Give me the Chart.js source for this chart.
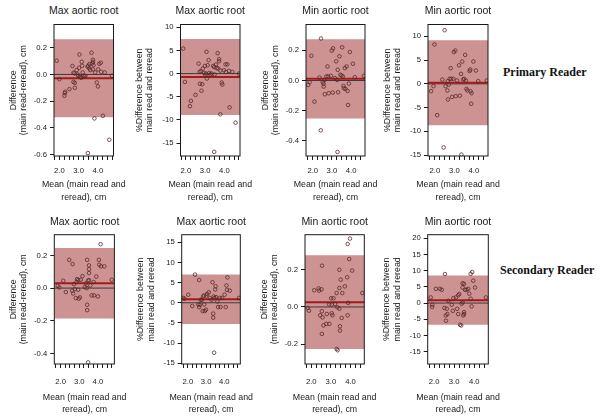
<!DOCTYPE html>
<html>
<head>
<meta charset="utf-8">
<script src="https://cdn.jsdelivr.net/npm/chart.js"></script>
<style>
    body { margin: 0; background: #fff; width: 600px; height: 416px; overflow: hidden; position: relative; }
    .panel { position: absolute; }
    .reader {
        position: absolute; white-space: nowrap; color: #111;
        font-family: 'Liberation Serif', 'Times New Roman', serif; font-weight: bold;
        font-size: 12px; line-height: 14px;
    }
    .xtitle, .ptitle {
        position: absolute; width: 130px; text-align: center; white-space: nowrap; color: #1a1a1a;
        font-family: 'Liberation Sans', Arial, Helvetica, sans-serif;
    }
    .xtitle { font-size: 8.8px; line-height: 12.4px; }
    .ptitle { font-size: 10.5px; line-height: 12px; }
</style>
</head>
<body>
<div class="reader" style="left:503px; top:65px;">Primary Reader</div>
<div class="reader" style="left:500px; top:263px;">Secondary Reader</div>
<script>
// Bland-Altman plots, main read vs reread, primary and secondary reader

// ---- values ----
const xTickValues = [1.75, 2, 2.25, 2.5, 2.75, 3, 3.25, 3.5, 3.75, 4, 4.25, 4.5, 4.75];

// Max aortic root, primary reader: difference (cm)
const maxPrimaryMean = [1.86, 2.00, 2.26, 2.28, 2.30, 2.52, 2.68, 2.73, 2.78, 2.73, 2.80, 2.80, 2.90, 2.95, 2.99, 3.02, 3.04, 3.08, 3.13, 3.16, 3.18, 3.21, 3.25, 3.30, 3.35, 3.46, 3.50, 3.55, 3.56, 3.60, 3.67, 3.70, 3.74, 3.75, 3.77, 3.74, 3.86, 3.94, 4.00, 4.01, 4.07, 4.15, 4.17, 4.35, 4.73, 3.82, 4.26, 4.59, 3.48];
const maxPrimaryDiff = [0.103, -0.035, -0.16, -0.14, -0.13, -0.11, 0.063, 0.013, 0.008, -0.055, -0.10, -0.063, 0.033, 0.0, -0.01, 0.05, 0.15, -0.018, -0.025, 0.095, 0.065, 0.015, -0.01, -0.013, -0.01, 0.058, 0.065, 0.045, 0.078, 0.033, 0.163, 0.083, 0.11, 0.095, 0.07, 0.038, 0.015, -0.06, -0.09, 0.038, 0.08, 0.088, 0.02, 0.015, -0.01, -0.33, -0.31, -0.49, -0.59];
const maxPrimaryDiffLoA = [-0.321, -0.028, 0.265];

// Max aortic root, primary reader: % difference
const maxPrimaryPctMean = [1.86, 1.95, 2.26, 2.21, 2.50, 2.66, 2.71, 2.78, 2.73, 2.85, 2.81, 2.88, 2.95, 2.99, 3.02, 3.04, 3.09, 3.07, 3.13, 3.18, 3.21, 3.27, 3.33, 3.42, 3.47, 3.49, 3.56, 3.60, 3.65, 3.68, 3.72, 3.73, 3.79, 3.86, 3.89, 3.79, 3.98, 4.06, 4.15, 4.08, 4.24, 4.41, 4.27, 4.58, 4.76, 3.47];
const maxPrimaryPct = [5.4, -1.8, -5.9, -7.05, -4.6, 2.15, 0.36, 0.5, -2.2, -2.3, -3.7, 1.08, 0.14, 1.65, -0.36, 0.0, -1.08, 4.7, 1.8, 2.9, 0.14, -0.2, 0.0, 1.65, 1.4, -0.2, 1.94, 1.2, 4.4, 1.08, 2.66, 3.1, 0.65, -1.94, -2.37, -8.8, 0.72, 2.0, 2.0, 0.36, 0.58, 0.36, -7.3, -10.6, 0.0, -16.9];
const maxPrimaryPctLoA = [-8.95, -0.75, 7.45];

// Min aortic root, primary reader: difference (cm)
const minPrimaryMean = [1.93, 1.76, 1.84, 2.09, 2.35, 2.43, 2.42, 2.52, 2.56, 2.57, 2.63, 2.61, 2.71, 2.77, 2.80, 2.83, 2.94, 2.99, 3.06, 3.04, 3.15, 3.22, 3.27, 3.30, 3.32, 3.39, 3.44, 3.50, 3.53, 3.57, 3.60, 3.62, 3.67, 3.70, 3.76, 3.81, 3.84, 3.93, 4.09, 4.19, 3.29, 4.66, 3.88];
const minPrimaryDiff = [0.164, -0.029, -0.011, -0.14, 0.02, 0.278, -0.33, -0.011, -0.022, -0.04, -0.091, 0.002, 0.027, 0.093, 0.027, -0.084, 0.031, 0.198, 0.213, -0.08, 0.016, 0.127, 0.004, 0.071, -0.078, 0.16, 0.038, 0.033, 0.22, 0.027, -0.036, -0.051, 0.082, -0.056, 0.093, -0.069, -0.162, 0.189, 0.111, 0.022, -0.473, 0.031, -0.02];
const minPrimaryDiffLoA = [-0.251, 0.011, 0.273];

// Min aortic root, primary reader: % difference
const minPrimaryPctMean = [2.50, 1.98, 1.81, 1.93, 2.12, 2.38, 2.45, 2.55, 2.64, 2.67, 2.66, 2.71, 2.76, 2.81, 2.84, 2.88, 2.95, 2.97, 3.05, 3.07, 3.14, 3.24, 3.28, 3.34, 3.36, 3.40, 3.45, 3.50, 3.55, 3.59, 3.62, 3.66, 3.78, 3.81, 3.83, 3.88, 3.86, 3.97, 4.10, 4.22, 4.66];
const minPrimaryPct = [11.3, 8.3, -1.55, -0.5, -6.6, 0.9, -13.4, -0.5, -1.4, -3.3, 0.56, -0.14, 1.06, 3.3, 1.06, -2.75, 1.06, 6.7, 7.0, -2.6, 0.7, 3.9, -2.5, 2.1, -14.9, 4.7, 0.9, 1.06, 6.1, 0.7, -1.05, -1.4, 2.7, 3.0, -1.55, -1.97, -4.2, 4.7, 2.8, 0.56, 0.7];
const minPrimaryPctLoA = [-8.7, 0.25, 9.2];

// Max aortic root, secondary reader: difference (cm)
const maxSecondaryMean = [1.84, 1.93, 2.14, 2.28, 2.46, 2.64, 2.62, 2.67, 2.71, 2.76, 2.81, 2.85, 2.88, 2.94, 2.94, 2.97, 3.03, 3.08, 3.17, 3.29, 3.35, 3.42, 3.42, 3.42, 3.47, 3.52, 3.52, 3.52, 3.52, 3.59, 3.66, 3.79, 3.77, 3.91, 4.00, 4.05, 4.07, 4.16, 4.34, 4.14, 4.74, 3.47, 3.40];
const maxSecondaryDiff = [0.014, 0.004, 0.045, -0.024, 0.173, 0.147, -0.016, -0.033, 0.024, -0.006, -0.061, 0.037, 0.055, 0.049, -0.01, -0.065, -0.057, 0.051, 0.073, 0.006, 0.029, 0.173, -0.102, -0.135, 0.045, 0.139, 0.116, 0.092, 0.049, 0.016, -0.045, -0.045, 0.037, 0.071, -0.051, 0.173, 0.143, 0.133, 0.133, 0.269, 0.051, -0.455, 0.0];
const maxSecondaryDiffLoA = [-0.186, 0.029, 0.245];

// Max aortic root, secondary reader: % difference
const maxSecondaryPctMean = [1.75, 1.81, 2.02, 2.24, 2.39, 2.62, 2.57, 2.66, 2.70, 2.62, 2.77, 2.81, 2.84, 2.88, 2.90, 2.93, 2.99, 3.02, 3.06, 3.15, 3.21, 3.30, 3.35, 3.39, 3.39, 3.42, 3.46, 3.50, 3.52, 3.55, 3.62, 3.66, 3.79, 3.75, 3.88, 4.02, 4.08, 4.12, 4.15, 4.17, 4.30, 4.81, 3.44];
const maxSecondaryPct = [1.2, 1.0, 2.0, -0.8, 7.0, 5.65, -0.4, -0.5, 0.74, -1.07, 0.74, -2.05, 1.56, 1.8, -0.4, -2.05, -1.7, 1.8, 2.2, 2.6, 1.2, 0.74, 5.1, -2.7, -3.7, 1.56, 1.2, 3.3, 4.1, 1.4, 0.33, -1.07, -1.07, 1.2, 1.2, 2.0, -1.07, 4.3, 3.2, 6.3, 3.0, 1.2, -12.4];
const maxSecondaryPctLoA = [-5.3, 0.85, 7.0];

// Min aortic root, secondary reader: difference (cm)
const minSecondaryMean = [3.97, 3.85, 3.93, 4.08, 3.83, 3.43, 3.50, 2.55, 2.15, 2.37, 2.40, 2.52, 3.29, 3.43, 3.58, 3.71, 3.01, 3.13, 2.91, 3.04, 3.21, 3.33, 3.43, 3.88, 4.60, 1.82, 1.88, 2.54, 2.45, 2.57, 2.79, 3.04, 3.08, 2.62, 2.76, 2.92, 2.54, 3.55, 3.46, 3.46, 3.85, 3.29, 3.34];
const minSecondaryDiff = [0.368, 0.339, 0.258, 0.196, 0.16, 0.2, 0.147, 0.222, 0.09, 0.10, 0.088, 0.095, 0.075, 0.102, 0.075, 0.111, 0.047, 0.047, 0.013, 0.013, 0.016, -0.002, -0.009, 0.022, 0.075, -0.005, -0.02, -0.023, -0.045, -0.056, -0.038, -0.034, -0.045, -0.099, -0.091, -0.091, -0.145, -0.059, -0.104, -0.127, -0.045, -0.226, -0.233];
const minSecondaryDiffLoA = [-0.226, 0.026, 0.278];

// Min aortic root, secondary reader: % difference
const minSecondaryPctMean = [1.83, 1.91, 1.90, 2.09, 2.29, 2.38, 2.54, 2.51, 2.63, 2.58, 2.66, 2.59, 2.71, 2.88, 2.96, 3.09, 3.20, 3.25, 3.42, 3.49, 3.42, 3.54, 3.62, 3.70, 3.75, 3.42, 3.37, 3.49, 3.45, 3.49, 3.20, 3.15, 2.93, 3.29, 3.35, 3.82, 3.90, 3.95, 4.04, 3.82, 3.87, 4.58];
const minSecondaryPct = [1.75, -0.5, -1.2, 4.4, 4.4, 4.1, 8.95, -1.5, -1.75, -3.8, -3.4, -5.45, 0.7, -0.5, 1.54, 1.75, 2.4, 2.8, 4.8, 5.9, 6.1, 4.1, 4.1, 4.4, 2.9, 0.2, -0.2, -2.8, -3.8, -3.4, -3.4, -1.75, -2.4, -6.7, -6.9, 9.05, 9.57, 6.9, 4.8, 1.34, -1.03, 1.75];
const minSecondaryPctLoA = [-6.7, 0.9, 8.5];

// ---- look ----
const SANS = "'Liberation Sans', Arial, Helvetica, sans-serif";
const INK = '#1a1a1a';
const BAND = 'rgb(205, 146, 146)';
const BIAS = '#a51a1a';
const ZERO = '#3c3c3c';
const POINT = '#5a2b2b';

const diffTitle = ['Difference', '(main read-reread), cm'];
const pctTitle = ['%Difference between', 'main read and reread'];
const meanTitle = ['Mean (main read and', 'reread), cm'];

// row geometry in page pixels
const rows = [
    { boxTop: 24.5, boxBottom: 156, titleY: 10, xTickPad: 6.5, xH: 47.9, xTitleY: 28.3 },
    { boxTop: 234.7, boxBottom: 364, titleY: 221.3, xTickPad: 8.8, xH: 51.9, xTitleY: 32.7 }
];

const panels = [
    { row: 0, box: [54, 113.5], title: 'Max aortic root', yTitle: diffTitle, mean: maxPrimaryMean, diff: maxPrimaryDiff, loa: maxPrimaryDiffLoA, xr: [1.72, 4.81], yr: [-0.612, 0.375], yTicks: [-0.6, -0.4, -0.2, 0, 0.2], dec: 1 },
    { row: 0, box: [180.5, 240], title: 'Max aortic root', yTitle: pctTitle, mean: maxPrimaryPctMean, diff: maxPrimaryPct, loa: maxPrimaryPctLoA, xr: [1.72, 4.81], yr: [-17.8, 10.6], yTicks: [-15, -10, -5, 0, 5, 10], dec: 0 },
    { row: 0, box: [306, 365], title: 'Min aortic root', yTitle: diffTitle, mean: minPrimaryMean, diff: minPrimaryDiff, loa: minPrimaryDiffLoA, xr: [1.65, 4.72], yr: [-0.5, 0.371], yTicks: [-0.4, -0.2, 0, 0.2], dec: 1 },
    { row: 0, box: [428, 488], title: 'Min aortic root', yTitle: pctTitle, mean: minPrimaryPctMean, diff: minPrimaryPct, loa: minPrimaryPctLoA, xr: [1.65, 4.72], yr: [-15.2, 12.5], yTicks: [-15, -10, -5, 0, 5, 10], dec: 0 },
    { row: 1, box: [54.3, 115], title: 'Max aortic root', yTitle: diffTitle, mean: maxSecondaryMean, diff: maxSecondaryDiff, loa: maxSecondaryDiffLoA, xr: [1.66, 4.88], yr: [-0.465, 0.327], yTicks: [-0.4, -0.2, 0, 0.2], dec: 1 },
    { row: 1, box: [181.7, 240.7], title: 'Max aortic root', yTitle: pctTitle, mean: maxSecondaryPctMean, diff: maxSecondaryPct, loa: maxSecondaryPctLoA, xr: [1.66, 4.88], yr: [-15.2, 16.9], yTicks: [-15, -10, -5, 0, 5, 10, 15], dec: 0 },
    { row: 1, box: [305, 364.3], title: 'Min aortic root', yTitle: diffTitle, mean: minSecondaryMean, diff: minSecondaryDiff, loa: minSecondaryDiffLoA, xr: [1.68, 4.70], yr: [-0.307, 0.389], yTicks: [-0.2, 0, 0.2], dec: 1 },
    { row: 1, box: [427.7, 488.3], title: 'Min aortic root', yTitle: pctTitle, mean: minSecondaryPctMean, diff: minSecondaryPct, loa: minSecondaryPctLoA, xr: [1.68, 4.70], yr: [-18.8, 21.1], yTicks: [-15, -10, -5, 0, 5, 10, 15, 20], dec: 0 }
];

// box around the plotting region, like R's box()
const framePlugin = {
    id: 'frame',
    afterDatasetsDraw(chart) {
        const { ctx, chartArea: a } = chart;
        ctx.save();
        ctx.strokeStyle = INK;
        ctx.lineWidth = 1;
        ctx.strokeRect(a.left, a.top, a.right - a.left, a.bottom - a.top);
        ctx.restore();
    }
};

function addText(cls, cx, top, lines) {
    const el = document.createElement('div');
    el.className = cls;
    el.style.left = (cx - 65) + 'px';
    el.style.top = top + 'px';
    el.innerHTML = lines.join('<br>');
    document.body.appendChild(el);
}

function drawPanel(p) {
    const row = rows[p.row];
    const cTop = Math.floor(row.boxTop - 8);
    const cLeft = Math.floor(p.box[0] - 48);
    const cRight = Math.ceil(p.box[1] + 6);
    const cBottom = Math.ceil(row.boxBottom + row.xH);
    const yW = p.box[0] - cLeft;
    const cx = (p.box[0] + p.box[1]) / 2;

    const wrap = document.createElement('div');
    wrap.className = 'panel';
    wrap.style.left = cLeft + 'px';
    wrap.style.top = cTop + 'px';
    const canvas = document.createElement('canvas');
    canvas.width = cRight - cLeft;
    canvas.height = cBottom - cTop;
    wrap.appendChild(canvas);
    document.body.appendChild(wrap);

    // panel title and x axis title as html, centred over the plot box
    addText('ptitle', cx, row.titleY - 6, [p.title]);
    addText('xtitle', cx, row.boxBottom + row.xTitleY - 6.2, meanTitle);

    const pts = p.mean.map((m, i) => ({ x: m, y: p.diff[i] }));
    const flat = v => [{ x: p.xr[0], y: v }, { x: p.xr[1], y: v }];
    const tickFont = { family: SANS, size: 7.7, lineHeight: 1.2 };
    const axisGrid = { display: true, drawOnChartArea: false, drawTicks: true, tickLength: 4, color: INK, lineWidth: 1 };

    new Chart(canvas, {
        type: 'scatter',
        data: {
            datasets: [
                {   // readings
                    data: pts, order: 0,
                    pointRadius: 1.8, pointBorderWidth: 0.8,
                    pointBorderColor: POINT, pointBackgroundColor: 'rgba(0,0,0,0)'
                },
                {   // mean difference
                    type: 'line', data: flat(p.loa[1]), order: 1, showLine: true,
                    borderColor: BIAS, borderWidth: 2, pointRadius: 0, fill: false
                },
                {   // zero line
                    type: 'line', data: flat(0), order: 2, showLine: true,
                    borderColor: ZERO, borderWidth: 1, pointRadius: 0, fill: false
                },
                {   // limits of agreement band
                    type: 'line', data: flat(p.loa[2]), order: 3, showLine: true,
                    borderColor: 'rgba(0,0,0,0)', borderWidth: 0, pointRadius: 0,
                    backgroundColor: BAND, fill: { value: p.loa[0] }
                }
            ]
        },
        options: {
            responsive: false,
            animation: false,
            events: [],
            layout: {
                padding: {
                    top: row.boxTop - cTop,
                    left: 0,
                    right: cRight - p.box[1],
                    bottom: cBottom - row.boxBottom - row.xH
                }
            },
            plugins: {
                legend: { display: false },
                tooltip: { enabled: false },
                title: { display: false }
            },
            scales: {
                x: {
                    type: 'linear', min: p.xr[0], max: p.xr[1],
                    afterBuildTicks: s => { s.ticks = xTickValues.filter(v => v >= s.min && v <= s.max).map(v => ({ value: v })); },
                    afterFit: s => { s.height = row.xH; },
                    grid: axisGrid,
                    border: { display: false },
                    ticks: {
                        autoSkip: false, maxRotation: 0, minRotation: 0, padding: row.xTickPad,
                        color: INK, font: tickFont,
                        callback: v => Number.isInteger(v) ? v.toFixed(1) : ''
                    }
                },
                y: {
                    type: 'linear', min: p.yr[0], max: p.yr[1],
                    afterBuildTicks: s => { s.ticks = p.yTicks.map(v => ({ value: v })); },
                    afterFit: s => { s.width = yW; },
                    grid: axisGrid,
                    border: { display: false },
                    ticks: {
                        autoSkip: false, padding: 3, color: INK, font: tickFont,
                        callback: v => p.dec ? v.toFixed(p.dec) : String(v)
                    },
                    title: {
                        display: true, text: p.yTitle, color: INK,
                        font: { family: SANS, size: 8.8, lineHeight: 1.15 },
                        padding: { top: yW - 40.8 - 5, bottom: 0 }
                    }
                }
            }
        },
        plugins: [framePlugin]
    });
}

panels.forEach(drawPanel);
</script>
</body>
</html>
